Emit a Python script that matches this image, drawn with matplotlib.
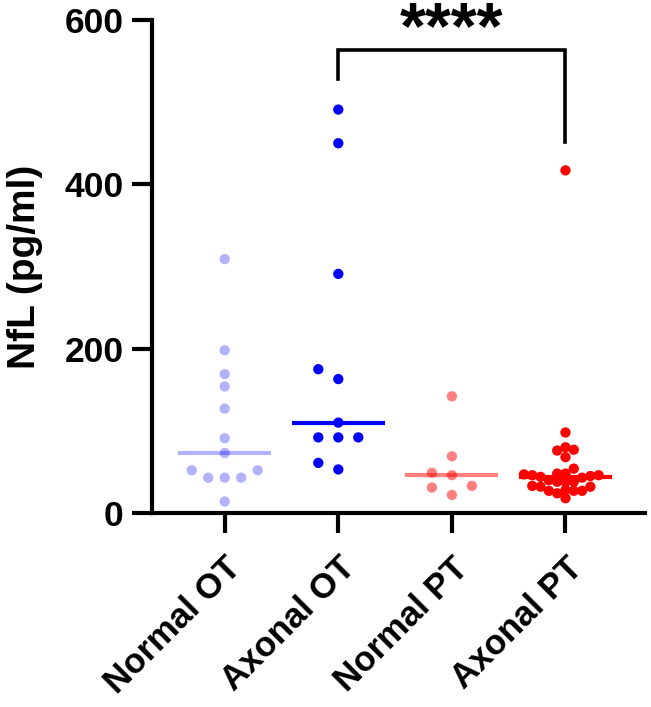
import numpy as np
import matplotlib
matplotlib.use('Agg')
import matplotlib.pyplot as plt

plt.rcParams['font.family'] = ['Liberation Sans', 'DejaVu Sans']
plt.rcParams['font.weight'] = 'bold'

groups = ['Normal OT', 'Axonal OT', 'Normal PT', 'Axonal PT']
normal_ot = [309, 198, 169, 154, 127, 91, 73, 52, 52, 43, 43, 43, 14]
axonal_ot = [491, 450, 291, 175, 163, 110, 92, 92, 92, 61, 53]
normal_pt = [142, 69, 49, 46, 33, 31, 22]
axonal_pt = [417, 98, 80, 77, 76, 68, 54, 48, 48, 47, 46, 46, 45, 44, 43,
             40, 38, 38, 38, 33, 32, 32, 28, 27, 27, 27, 24, 18]
data = [normal_ot, axonal_ot, normal_pt, axonal_pt]

colors = ['#0000ff', '#0000ff', '#ff0000', '#ff0000']
alphas = [0.3, 1.0, 0.5, 1.0]
# swarm layout in pixels: horizontal step, min distance between dots
steps = [16.5, 20, 20, 8.3]
gaps = [11, 11, 11, 8]

yticks = [0, 200, 400, 600]
stars = '****'
bracket_top = 563


def swarm(vals, ax, step, gap):
    # grid-stepped beeswarm (prism style), worked out in pixel space
    vals = np.asarray(vals, float)
    ypx = ax.transData.transform(np.column_stack([np.zeros(len(vals)), vals]))[:, 1]
    xscale = ax.transData.transform([[1, 0]])[0, 0] - ax.transData.transform([[0, 0]])[0, 0]
    cands = [0.0]
    for k in range(1, 40):
        cands += [-k * step, k * step]
    placed = []
    off = np.zeros(len(vals))
    for i in np.argsort(ypx, kind='stable'):
        for dx in cands:
            if all((dx - px) ** 2 + (ypx[i] - py) ** 2 >= gap ** 2 for px, py in placed):
                break
        placed.append((dx, ypx[i]))
        off[i] = dx / xscale
    return off


fig = plt.figure(figsize=(6.51, 7.07), dpi=100)
ax = fig.add_axes([152 / 651, 194 / 707, (645 - 152) / 651, 493 / 707])
ax.set_xlim(-0.64, 3.7)
ax.set_ylim(0, 600)

for i, vals in enumerate(data):
    off = swarm(vals, ax, steps[i], gaps[i])
    med = np.median(vals)
    ax.plot([i - 0.41, i + 0.41], [med, med], color=colors[i], alpha=alphas[i],
            lw=3, solid_capstyle='butt', zorder=2)
    ax.scatter(i + off, vals, s=55, color=colors[i], alpha=alphas[i],
               edgecolors='none', zorder=3, clip_on=False)

# significance bracket between Axonal OT and Axonal PT
ax.plot([1, 1, 3, 3], [max(axonal_ot) + 37, bracket_top, bracket_top, max(axonal_pt) + 34],
        color='black', lw=2.6, solid_joinstyle='miter', clip_on=False)
ax.text(2, bracket_top + 3, stars, ha='center', va='baseline', fontsize=48,
        fontweight='bold', clip_on=False)

for s in ['top', 'right']:
    ax.spines[s].set_visible(False)
for s in ['left', 'bottom']:
    ax.spines[s].set_linewidth(3)

ax.set_yticks(yticks)
ax.set_yticklabels([str(t) for t in yticks], fontsize=25.5, fontweight='bold')
ax.set_xticks(range(len(groups)))
ax.set_xticklabels(groups, fontsize=25, fontweight='bold', rotation=45,
                   ha='right', va='top', rotation_mode='anchor')
ax.tick_params(axis='both', length=14.5, width=3, pad=6)
ax.tick_params(axis='x', pad=13)
ax.set_ylabel('NfL (pg/ml)', fontsize=28, fontweight='bold')
ax.yaxis.set_label_coords(-0.222, 0.5)

fig.savefig('out.png', dpi=100)
